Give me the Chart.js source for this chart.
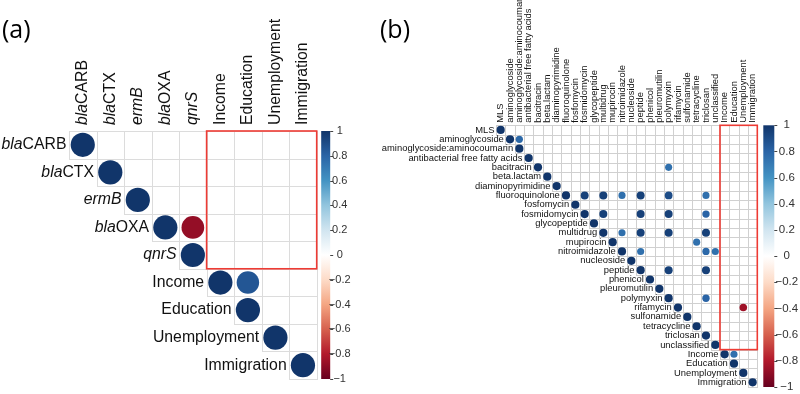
<!DOCTYPE html>
<html>
<head>
<meta charset="utf-8">
<script src="https://cdn.jsdelivr.net/npm/chart.js@4.4.1/dist/chart.umd.min.js"></script>
<style>
  html, body { margin: 0; padding: 0; background: #fff; }
  #wrap { position: relative; width: 800px; height: 394px; }
  #chartA { position: absolute; left: 0; top: 0; }
  #chartB { position: absolute; left: 380px; top: 0; }
</style>
</head>
<body>
<div id="wrap">
  <canvas id="chartA" width="380" height="394"></canvas>
  <canvas id="chartB" width="420" height="394"></canvas>
</div>
<script>
// ---- panel (a): genes vs. socio-economic variables ----
const A_ITALIC = ['bla', 'bla', 'ermB', 'bla', 'qnrS', '', '', '', ''];
const A_PLAIN = ['CARB', 'CTX', '', 'OXA', '', 'Income', 'Education', 'Unemployment', 'Immigration'];
const A_ROW = [0, 1, 2, 3, 3, 4, 5, 5, 6, 7, 8];
const A_COL = [0, 1, 2, 3, 4, 4, 5, 6, 6, 7, 8];
const A_VAL = [1, 1, 1, 1, -0.88, 1, 1, 0.86, 1, 1, 1];

// ---- panel (b): resistance classes vs. socio-economic variables ----
const B_LABELS = ['MLS', 'aminoglycoside', 'aminoglycoside:aminocoumarin', 'antibacterial free fatty acids',
  'bacitracin', 'beta.lactam', 'diaminopyrimidine', 'fluoroquinolone', 'fosfomycin', 'fosmidomycin',
  'glycopeptide', 'multidrug', 'mupirocin', 'nitroimidazole', 'nucleoside', 'peptide', 'phenicol',
  'pleuromutilin', 'polymyxin', 'rifamycin', 'sulfonamide', 'tetracycline', 'triclosan', 'unclassified',
  'Income', 'Education', 'Unemployment', 'Immigration'];
const B_DIAG = [1, 1, 1, 1, 1, 1, 1, 1, 1, 1, 1, 1, 1, 1, 1, 1, 1, 1, 1, 1, 1, 1, 1, 1, 1, 1, 1, 1];
const B_ROW = [1, 4, 7, 7, 7, 7, 7, 7, 9, 9, 9, 9, 11, 11, 11, 11, 12, 13, 13, 13, 15, 15, 18, 19, 24];
const B_COL = [2, 18, 9, 11, 13, 15, 18, 22, 11, 15, 18, 22, 13, 15, 18, 22, 21, 15, 22, 23, 18, 22, 22, 26, 25];
const B_VAL = [0.78, 0.75, 0.95, 0.95, 0.75, 0.95, 0.9, 0.75, 0.95, 0.95, 0.95, 0.8, 0.75, 0.95, 0.95, 0.95,
  0.75, 0.75, 0.78, 0.75, 0.95, 0.95, 0.8, -0.85, 0.75];

// colour bar ticks and palette
const CB_TICKS = [1, 0.8, 0.6, 0.4, 0.2, 0, -0.2, -0.4, -0.6, -0.8, -1];
const RDBU = ['#67001F', '#B2182B', '#D6604D', '#F4A582', '#FDDBC7', '#FFFFFF',
  '#D1E5F0', '#92C5DE', '#4393C3', '#2A64A6', '#11356A'];

function hexRgb(h) {
  return [parseInt(h.slice(1, 3), 16), parseInt(h.slice(3, 5), 16), parseInt(h.slice(5, 7), 16)];
}
function corrColor(v) {
  const t = (Math.max(-1, Math.min(1, v)) + 1) / 2 * (RDBU.length - 1);
  const i = Math.min(Math.floor(t), RDBU.length - 2);
  const f = t - i;
  const a = hexRgb(RDBU[i]), b = hexRgb(RDBU[i + 1]);
  const c = a.map((x, k) => Math.round(x + (b[k] - x) * f));
  return 'rgb(' + c.join(',') + ')';
}

function cellSize(chart) {
  const ca = chart.chartArea;
  if (!ca) return 10;
  return (ca.right - ca.left) / chart.options.plugins.corrDeco.n;
}

// grid, labels, red box, colour bar and panel letter
const corrDeco = {
  id: 'corrDeco',
  beforeDatasetsDraw(chart, args, o) {
    const { ctx, scales: { x, y } } = chart;
    ctx.save();
    ctx.strokeStyle = o.gridColor;
    ctx.lineWidth = 1;
    for (let i = 0; i < o.n; i++) {
      for (let j = i; j < o.n; j++) {
        const x0 = Math.round(x.getPixelForValue(j - 0.5)) + 0.5;
        const x1 = Math.round(x.getPixelForValue(j + 0.5)) + 0.5;
        const y0 = Math.round(y.getPixelForValue(i - 0.5)) + 0.5;
        const y1 = Math.round(y.getPixelForValue(i + 0.5)) + 0.5;
        ctx.strokeRect(x0, y0, x1 - x0, y1 - y0);
      }
    }
    ctx.restore();
  },
  afterDatasetsDraw(chart, args, o) {
    const { ctx, scales: { x, y } } = chart;
    ctx.save();
    // red box
    const b = o.box;
    ctx.strokeStyle = '#ee3b34';
    ctx.lineWidth = 1.6;
    const bx0 = x.getPixelForValue(b.c0 - 0.5), bx1 = x.getPixelForValue(b.c1 + 0.5);
    const by0 = y.getPixelForValue(b.r0 - 0.5), by1 = y.getPixelForValue(b.r1 + 0.5);
    ctx.strokeRect(bx0, by0, bx1 - bx0, by1 - by0);

    // labels
    ctx.fillStyle = '#111';
    ctx.textBaseline = 'middle';
    const italicFont = 'italic ' + o.font;
    for (let i = 0; i < o.n; i++) {
      const it = o.italic[i], pl = o.plain[i];
      ctx.font = italicFont;
      const wi = ctx.measureText(it).width;
      ctx.font = o.font;
      const wp = ctx.measureText(pl).width;
      // row label, right aligned before diagonal cell
      const xr = x.getPixelForValue(i - 0.5) - o.rowGap;
      const yc = y.getPixelForValue(i);
      ctx.textAlign = 'left';
      ctx.font = italicFont;
      ctx.fillText(it, xr - wi - wp, yc);
      ctx.font = o.font;
      ctx.fillText(pl, xr - wp, yc);
      // column label, rotated
      ctx.save();
      ctx.translate(x.getPixelForValue(i), y.getPixelForValue(-0.5) - o.colGap);
      ctx.rotate(-Math.PI / 2);
      ctx.font = italicFont;
      ctx.fillText(it, 0, 0);
      ctx.font = o.font;
      ctx.fillText(pl, wi, 0);
      ctx.restore();
    }

    // colour bar
    const cb = o.cb;
    const top = y.getPixelForValue(-0.5), bot = y.getPixelForValue(o.n - 0.5);
    const cx0 = chart.chartArea.right + cb.offset;
    const g = ctx.createLinearGradient(0, top, 0, bot);
    RDBU.slice().reverse().forEach((c, k) => g.addColorStop(k / (RDBU.length - 1), c));
    ctx.fillStyle = g;
    ctx.fillRect(cx0, top, cb.width, bot - top);
    ctx.strokeStyle = '#444';
    ctx.lineWidth = 1;
    ctx.font = cb.font;
    ctx.fillStyle = '#333';
    ctx.textAlign = 'center';
    CB_TICKS.forEach(t => {
      const ty = top + (1 - t) / 2 * (bot - top);
      ctx.beginPath();
      ctx.moveTo(cx0 + cb.width, Math.round(ty) + 0.5);
      ctx.lineTo(cx0 + cb.width + 3, Math.round(ty) + 0.5);
      ctx.stroke();
      const s = t === 0 ? '0' : (t < 0 ? '\u2212' : '') + String(Math.abs(t));
      ctx.fillText(s, cx0 + cb.width + cb.labelDx, ty);
    });

    // panel letter
    ctx.font = o.titleFont;
    ctx.fillStyle = '#000';
    ctx.textAlign = 'left';
    ctx.textBaseline = 'alphabetic';
    ctx.fillText(o.title, o.titleX, o.titleY);
    ctx.restore();
  }
};

function cellData(rows, cols, vals) {
  return rows.map((r, k) => ({ x: cols[k], y: r, v: vals[k] }));
}

function makeChart(id, n, points, pad, deco) {
  return new Chart(document.getElementById(id), {
    type: 'scatter',
    data: {
      datasets: [{
        data: points,
        showLine: false,
        pointBackgroundColor: c => (c.raw ? corrColor(c.raw.v) : '#11356A'),
        pointBorderWidth: 0,
        pointRadius: c => (c.raw ? cellSize(c.chart) * 0.44 * Math.sqrt(Math.abs(c.raw.v)) : 3)
      }]
    },
    options: {
      responsive: false,
      animation: false,
      events: [],
      layout: { padding: pad },
      scales: {
        x: { type: 'linear', min: -0.5, max: n - 0.5, display: false },
        y: { type: 'linear', min: -0.5, max: n - 0.5, reverse: true, display: false }
      },
      plugins: {
        legend: { display: false },
        tooltip: { enabled: false },
        corrDeco: deco
      }
    },
    plugins: [corrDeco]
  });
}

makeChart('chartA', A_PLAIN.length, cellData(A_ROW, A_COL, A_VAL),
  { left: 69, right: 63.3, top: 131, bottom: 15 },
  {
    n: A_PLAIN.length, italic: A_ITALIC, plain: A_PLAIN,
    font: '15.8px "Liberation Sans", Arial, sans-serif',
    rowGap: 2.5, colGap: 6, gridColor: '#dcdcdc',
    box: { r0: 0, c0: 5, r1: 4, c1: 8 },
    cb: { offset: 4.5, width: 9, labelDx: 9.5, font: '11px "Liberation Sans", Arial, sans-serif' },
    title: '(a)', titleFont: '25px "Open Sans", sans-serif', titleX: 2, titleY: 38
  });

const bPoints = cellData(B_DIAG.map((v, i) => i), B_DIAG.map((v, i) => i), B_DIAG)
  .concat(cellData(B_ROW, B_COL, B_VAL));

makeChart('chartB', B_LABELS.length, bPoints,
  { left: 116, right: 42.7, top: 125.3, bottom: 7 },
  {
    n: B_LABELS.length, italic: B_LABELS.map(() => ''), plain: B_LABELS,
    font: '9.4px "Liberation Sans", Arial, sans-serif',
    rowGap: 1.5, colGap: 2.5, gridColor: '#d0d0d0',
    box: { r0: 0, c0: 24, r1: 23, c1: 27 },
    cb: { offset: 6, width: 11, labelDx: 12.5, font: '11.5px "Liberation Sans", Arial, sans-serif' },
    title: '(b)', titleFont: '25px "Open Sans", sans-serif', titleX: 0, titleY: 38
  });
</script>
</body>
</html>
